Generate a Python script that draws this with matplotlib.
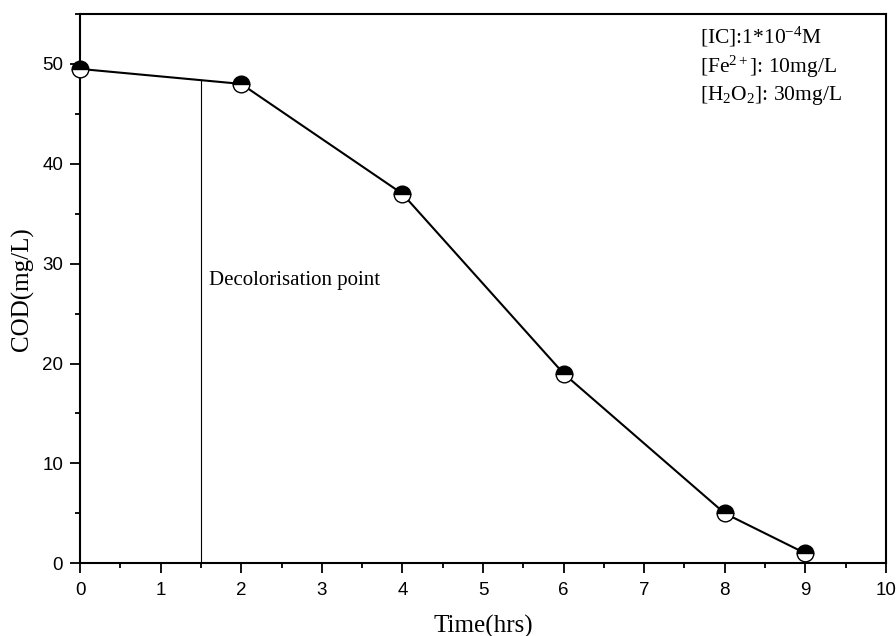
import matplotlib
matplotlib.use("Agg")
import matplotlib.pyplot as plt
from matplotlib.ticker import MultipleLocator

# data
time_hrs = [0, 2, 4, 6, 8, 9]
cod = [49.5, 48, 37, 19, 5, 1]
decolor_x = 1.5
decolor_top = 48.4

plt.rcParams["mathtext.fontset"] = "custom"
plt.rcParams["mathtext.rm"] = "Liberation Serif"
plt.rcParams["mathtext.it"] = "Liberation Serif:italic"

fig = plt.figure(figsize=(8.96, 6.36), dpi=100)
ax = fig.add_axes([0.0893, 0.1143, 0.8995, 0.8637])

ax.plot(time_hrs, cod, color="black", lw=1.5, marker="o", markersize=12,
        fillstyle="top", markerfacecolor="black", markerfacecoloralt="white",
        markeredgecolor="black", markeredgewidth=1.0, clip_on=False, zorder=3)
ax.vlines(decolor_x, 0, decolor_top, color="black", lw=0.8)
ax.text(1.6, 28.3, "Decolorisation point", fontsize=15,
        family="Liberation Serif", ha="left", va="center")

info = (r"[IC]:1*10$^{-4}$M" + "\n" +
        r"[Fe$^{2+}$]: 10mg/L" + "\n" +
        r"[H$_2$O$_2$]: 30mg/L")
ax.text(0.769, 0.98, info, transform=ax.transAxes, fontsize=15.5,
        family="Liberation Serif", ha="left", va="top", linespacing=1.25)

ax.set_xlim(0, 10)
ax.set_ylim(0, 55)
ax.xaxis.set_major_locator(MultipleLocator(1))
ax.xaxis.set_minor_locator(MultipleLocator(0.5))
ax.yaxis.set_major_locator(MultipleLocator(10))
ax.yaxis.set_minor_locator(MultipleLocator(5))
ax.tick_params(which="both", direction="out", top=False, right=False, width=1.3)
ax.tick_params(which="major", length=7.2, labelsize=13.5, pad=5)
ax.tick_params(axis="x", which="major", pad=6.5)
ax.tick_params(which="minor", length=3.6)
for lab in ax.get_xticklabels() + ax.get_yticklabels():
    lab.set_family("Liberation Sans")
for s in ax.spines.values():
    s.set_linewidth(1.5)

ax.set_xlabel("Time(hrs)", fontsize=18, family="Liberation Serif", labelpad=11)
ax.set_ylabel("COD(mg/L)", fontsize=18, family="Liberation Serif", labelpad=6)

fig.savefig("out.png", dpi=100)
